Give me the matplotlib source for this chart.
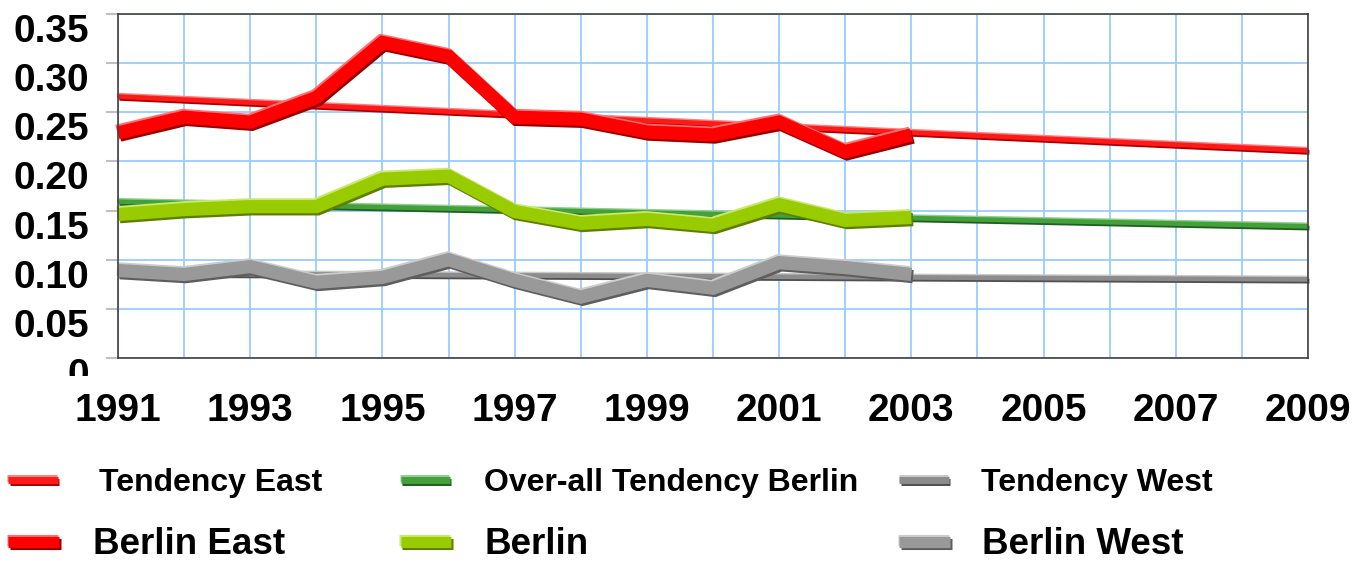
import numpy as np
import matplotlib
matplotlib.use('Agg')
import matplotlib.pyplot as plt
import matplotlib.patheffects as pe
from matplotlib.transforms import Bbox, TransformedBbox
from matplotlib.legend_handler import HandlerLine2D

plt.rcParams['font.family'] = ['Liberation Sans', 'DejaVu Sans']
plt.rcParams['font.weight'] = 'bold'

# data
years = [1991, 1992, 1993, 1994, 1995, 1996, 1997, 1998, 1999, 2000, 2001, 2002, 2003]
berlin_east = [0.229, 0.245, 0.240, 0.265, 0.321, 0.307, 0.245, 0.243, 0.230, 0.227, 0.240, 0.210, 0.227]
berlin = [0.146, 0.151, 0.154, 0.154, 0.182, 0.185, 0.149, 0.137, 0.141, 0.135, 0.156, 0.140, 0.143]
berlin_west = [0.089, 0.085, 0.093, 0.077, 0.082, 0.100, 0.079, 0.062, 0.079, 0.071, 0.097, 0.092, 0.085]

trend_years = [1991, 2009]
trend_east = [0.266, 0.211]
trend_berlin = [0.159, 0.134]
trend_west = [0.086, 0.080]

xticks = list(range(1991, 2010, 2))
yticks = [0, 0.05, 0.10, 0.15, 0.20, 0.25, 0.30, 0.35]
ylabels = ['0', '0.05', '0.10', '0.15', '0.20', '0.25', '0.30', '0.35']


def fx(dark, light, d=1.6):
    return [pe.SimpleLineShadow(offset=(d * 0.8, -d), shadow_color=dark, alpha=1.0),
            pe.SimpleLineShadow(offset=(-d * 0.5, d * 0.8), shadow_color=light, alpha=1.0),
            pe.Normal()]


fig = plt.figure(figsize=(13.67, 5.63), dpi=100)
ax = fig.add_axes([118 / 1367, 1 - 358 / 563, 1190 / 1367, 344 / 563])

l1, = ax.plot(trend_years, trend_east, color='#ff1a1a', lw=3.4, solid_capstyle='butt',
              path_effects=fx('#aa0000', '#ff8080', 1.3), label='Tendency East', clip_on=False)
l2, = ax.plot(trend_years, trend_berlin, color='#44a03a', lw=3.4, solid_capstyle='butt',
              path_effects=fx('#1f5f1f', '#8fd08f', 1.3), label='Over-all Tendency Berlin', clip_on=False)
l3, = ax.plot(trend_years, trend_west, color='#8c8c8c', lw=3.4, solid_capstyle='butt',
              path_effects=fx('#505050', '#c8c8c8', 1.3), label='Tendency West', clip_on=False)

l4, = ax.plot(years, berlin_east, color='#ff0000', lw=9.5, solid_capstyle='butt', solid_joinstyle='miter',
              path_effects=fx('#9a0000', '#ff7070'), label='Berlin East', clip_on=False)
l5, = ax.plot(years, berlin, color='#99cc00', lw=9.5, solid_capstyle='butt', solid_joinstyle='miter',
              path_effects=fx('#5f7f00', '#c8e870'), label='Berlin', clip_on=False)
l6, = ax.plot(years, berlin_west, color='#999999', lw=9.5, solid_capstyle='butt', solid_joinstyle='miter',
              path_effects=fx('#5e5e5e', '#cccccc'), label='Berlin West', clip_on=False)

ax.set_xlim(1991, 2009)
ax.set_ylim(0, 0.35)
ax.set_xticks(xticks)
ax.set_xticks(range(1991, 2010), minor=True)
ax.set_yticks(yticks)
ax.set_yticklabels(ylabels, va='top')
ax.grid(True, which='both', axis='x', color='#99ccff', lw=1.3)
ax.grid(True, which='major', axis='y', color='#99ccff', lw=1.3)
ax.set_axisbelow(True)
ax.tick_params(axis='y', length=9, width=1.5, color='#c0c0c0', pad=12, labelsize=28)
ax.tick_params(axis='x', which='both', length=0, pad=25, labelsize=28)
for s in ax.spines.values():
    s.set_color('#404040')
    s.set_linewidth(1.2)

# the "0" label is cut off in the original
zero = ax.get_yticklabels()[0]
zero.set_clip_on(True)
zero.set_clip_box(TransformedBbox(Bbox([[0, 1 - 376 / 563], [1, 1]]), fig.transFigure))


def thick_handle(width):
    def upd(handle, orig):
        handle.update_from(orig)
        handle.set_linewidth(width)
    return HandlerLine2D(update_func=upd)


# legend, one entry each
rows = [(0.142, 23, 1.55, 5.0, [(l1, 0.006, 1.3), (l2, 0.293, 1.05), (l3, 0.658, 1.0)]),
        (0.032, 26.5, 1.38, 8.0, [(l4, 0.006, 0.92), (l5, 0.293, 0.9), (l6, 0.658, 0.85)])]
for y, fs, hl, hw, entries in rows:
    for h, x, pad in entries:
        fig.legend(handles=[h], loc='center left', bbox_to_anchor=(x, y), frameon=False,
                   fontsize=fs, handlelength=hl, handletextpad=pad, borderpad=0, borderaxespad=0,
                   handler_map={h: thick_handle(hw)})

fig.savefig('out.png', dpi=100)
